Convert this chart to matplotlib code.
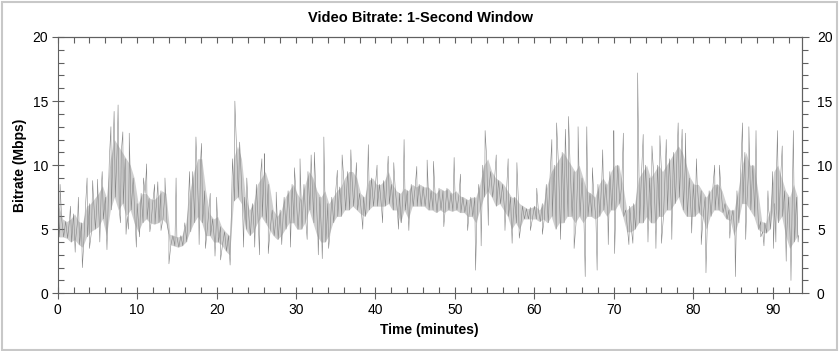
import matplotlib
matplotlib.use('Agg')
import matplotlib.pyplot as plt
import numpy as np
from matplotlib.ticker import MultipleLocator, FixedLocator
from matplotlib.patches import Rectangle

# band of the bitrate per half minute (Mbps): lower edge / upper edge
band_lo = [4.4, 4.4, 4.3, 4.0, 4.2, 3.8, 3.6, 4.4, 4.8, 5.0,
           5.2, 5.8, 4.5, 6.5, 7.5, 6.5, 7.0, 6.0, 6.5, 5.5,
           4.8, 5.5, 5.8, 5.5, 5.4, 5.5, 5.8, 5.5, 3.8, 3.7,
           3.6, 3.7, 4.0, 4.8, 5.5, 6.0, 5.5, 4.5, 4.5, 4.0,
           4.0, 3.8, 3.3, 3.0, 7.2, 7.5, 7.0, 5.0, 4.5, 4.8,
           5.5, 6.0, 5.5, 5.0, 4.5, 4.2, 4.5, 5.0, 5.5, 5.5,
           5.0, 5.0, 5.5, 6.5, 5.5, 4.5, 4.0, 4.0, 4.5, 5.5,
           6.0, 6.0, 6.5, 6.5, 6.8, 6.5, 6.2, 6.0, 6.5, 6.8,
           6.8, 6.8, 6.8, 7.0, 6.5, 6.5, 5.5, 6.5, 5.8, 6.8,
           6.8, 6.8, 6.8, 6.5, 6.5, 6.3, 6.5, 6.3, 6.5, 6.4,
           6.5, 6.3, 6.3, 6.0, 6.0, 5.5, 6.5, 7.5, 8.0, 7.5,
           6.8, 7.0, 6.5, 6.0, 5.0, 5.5, 5.0, 5.8, 5.8, 5.8,
           5.8, 5.6, 5.8, 5.5, 6.0, 5.0, 5.5, 5.5, 6.0, 6.0,
           5.5, 6.0, 5.5, 6.0, 6.0, 5.8, 6.0, 6.5, 6.0, 6.5,
           6.5, 7.0, 6.0, 4.8, 4.8, 5.0, 5.5, 5.5, 6.0, 5.5,
           5.5, 6.0, 6.0, 6.5, 6.5, 7.0, 7.5, 6.5, 6.0, 6.0,
           6.0, 6.3, 6.0, 5.0, 6.0, 6.5, 6.5, 6.3, 5.8, 5.7,
           4.5, 5.5, 7.0, 7.0, 6.5, 6.0, 5.0, 4.8, 4.7, 5.0,
           7.0, 5.5, 6.0, 4.5, 3.5, 4.0, 4.5]
band_hi = [6.8, 5.8, 5.6, 5.8, 6.2, 5.6, 5.5, 6.8, 7.0, 7.4,
           7.8, 8.4, 7.5, 10.5, 12.0, 11.5, 11.0, 10.5, 10.0, 9.0,
           7.0, 7.8, 7.8, 7.4, 7.3, 7.6, 8.0, 7.8, 4.6, 4.5,
           4.4, 4.5, 5.5, 8.0, 9.5, 10.5, 10.5, 8.0, 6.2, 5.8,
           6.0, 5.2, 4.8, 4.5, 10.5, 11.5, 10.5, 7.5, 6.5, 7.0,
           8.5, 9.0, 9.5, 8.5, 6.5, 6.0, 6.5, 7.5, 8.0, 8.5,
           7.8, 7.3, 8.5, 9.5, 9.0, 8.0, 7.5, 8.0, 7.0, 7.5,
           8.0, 8.3, 9.0, 9.5, 9.5, 9.0, 7.8, 7.5, 8.8, 9.0,
           8.5, 8.5, 8.8, 9.5, 8.5, 8.0, 7.8, 8.2, 8.0, 8.5,
           8.3, 8.5, 8.3, 8.3, 8.0, 7.8, 8.2, 8.0, 8.2, 7.8,
           8.0, 7.6, 7.5, 7.3, 7.5, 7.5, 8.5, 10.0, 10.5, 9.5,
           9.0, 8.8, 8.5, 8.0, 7.5, 7.5, 7.0, 6.8, 6.6, 6.7,
           6.8, 6.5, 7.0, 8.5, 9.5, 10.0, 10.5, 11.0, 10.5, 10.0,
           9.5, 10.0, 9.0, 8.0, 7.8, 7.5, 8.5, 9.0, 8.5, 9.5,
           10.0, 10.0, 8.5, 6.5, 6.8, 7.0, 9.0, 9.5, 10.0, 9.0,
           9.5, 10.0, 9.5, 10.0, 10.5, 11.0, 11.5, 11.0, 10.0, 9.0,
           8.5, 8.5, 8.0, 7.5, 8.0, 8.5, 8.5, 8.0, 7.0, 6.5,
           6.5, 8.0, 10.0, 11.0, 10.0, 10.0, 8.0, 5.6, 5.5, 6.5,
           9.5, 10.0, 9.0, 8.0, 7.5, 8.5, 7.5]

# single-second spikes outside the band (minutes, Mbps)
spike_t = [0.3, 2.6, 3.1, 3.7, 4.4, 5.0, 5.6, 6.2, 6.7, 7.1,
           7.6, 8.2, 8.6, 9.0, 9.9, 10.3, 11.2, 12.6, 13.5, 14.0,
           14.9, 17.4, 17.8, 18.1, 19.8, 20.0, 20.5, 21.7, 22.3, 22.9,
           23.4, 25.4, 26.0, 26.5, 27.5, 29.3, 31.9, 32.8, 33.3, 33.5,
           34.1, 36.9, 39.1, 41.6, 42.9, 43.6, 44.2, 46.5, 49.9, 52.6,
           53.3, 53.8, 54.2, 57.2, 57.8, 58.1, 62.2, 62.8, 64.3, 65.5,
           66.4, 66.6, 67.9, 70.0, 70.1, 71.2, 71.9, 73.0, 73.7, 74.3,
           75.8, 76.0, 78.1, 79.0, 79.8, 81.6, 82.7, 85.3, 86.2, 87.0,
           87.9, 88.5, 90.4, 90.6, 91.7, 92.3, 92.6,
           1.6, 2.2, 4.0, 5.3, 7.9, 8.9, 10.8, 11.6, 12.2, 13.0,
           16.6, 18.6, 19.2, 23.8, 24.8, 25.7, 28.2, 29.8, 30.5, 31.4,
           32.3, 35.2, 35.8, 37.6, 38.4, 40.2, 40.9, 42.3, 45.2, 47.3,
           48.6, 50.7, 51.6, 55.2, 56.3, 56.7, 59.5, 60.3, 61.0, 63.3,
           63.9, 65.0, 67.3, 68.6, 69.3, 72.4, 74.8, 75.3, 76.6, 77.3,
           78.6, 80.4, 81.0, 83.3, 84.6, 86.6, 88.9, 89.4, 90.1, 91.2,
           93.2]
spike_v = [8.5, 7.5, 2.0, 9.0, 8.8, 8.9, 9.5, 3.4, 13.0, 14.2,
           14.7, 12.6, 4.6, 12.5, 3.6, 4.4, 10.1, 8.7, 9.0, 2.3,
           9.0, 12.2, 3.8, 11.7, 2.9, 7.5, 2.6, 2.2, 15.0, 11.8,
           3.6, 3.0, 10.9, 3.1, 7.9, 3.6, 10.8, 3.0, 2.7, 12.2,
           3.5, 11.2, 11.6, 10.7, 5.0, 12.0, 4.9, 10.4, 10.6, 1.8,
           3.7, 12.7, 5.3, 3.9, 10.2, 4.3, 12.0, 13.3, 13.8, 13.0,
           1.3, 13.0, 1.8, 12.7, 3.1, 12.5, 3.8, 17.2, 12.4, 4.0,
           12.3, 3.9, 13.3, 12.5, 4.7, 1.6, 10.0, 1.3, 13.3, 13.0,
           12.7, 4.4, 4.0, 12.7, 2.5, 1.0, 12.7,
           6.8, 3.2, 3.5, 4.0, 5.5, 5.0, 9.0, 4.8, 8.5, 4.9,
           9.5, 3.5, 7.8, 9.0, 3.6, 10.5, 3.8, 9.8, 10.5, 4.2,
           11.0, 9.6, 10.8, 10.2, 5.0, 10.0, 5.5, 10.2, 9.9, 10.3,
           5.2, 9.3, 4.9, 10.8, 4.9, 10.5, 4.9, 8.2, 4.6, 4.2,
           12.8, 3.5, 9.8, 11.2, 3.8, 3.9, 11.5, 3.5, 12.0, 4.2,
           12.8, 10.5, 3.8, 10.0, 4.3, 4.2, 3.7, 8.0, 3.5, 11.5,
           4.0]

t_bin = np.arange(len(band_lo)) * 0.5
xs = np.concatenate([t_bin, t_bin + 0.25, spike_t])
ys = np.concatenate([band_hi, band_lo, spike_v])
order = np.argsort(xs, kind='stable')

plt.rcParams['font.family'] = ['Liberation Sans', 'DejaVu Sans']

fig = plt.figure(figsize=(8.4, 3.51), dpi=100)
ax = fig.add_axes([0.0687, 0.1644, 0.8857, 0.7302])

# filled band + jagged trace on top
ax.fill_between(t_bin + 0.125, band_lo, band_hi, color='#a8a8a8', alpha=0.55, lw=0)
ax.plot(xs[order], ys[order], '-', color='#858585', lw=0.4)

ax.set_xlim(0, 93.65)
ax.set_ylim(0, 20)
ax.xaxis.set_major_locator(MultipleLocator(10))
ax.xaxis.set_minor_locator(MultipleLocator(2))
ax.yaxis.set_major_locator(MultipleLocator(5))
ax.yaxis.set_minor_locator(MultipleLocator(1))

for s in ax.spines.values():
    s.set_color('#606060')
    s.set_linewidth(0.8)

ax.tick_params(which='major', direction='inout', length=8, width=0.8, color='#606060',
               labelsize=10, pad=3, right=False, top=False)
ax.tick_params(which='minor', direction='in', length=4, width=0.8, color='#606060',
               right=False, top=False)

sec_y = ax.secondary_yaxis('right')
sec_y.yaxis.set_major_locator(FixedLocator([0, 5, 10, 15, 20]))
sec_y.yaxis.set_minor_locator(FixedLocator(range(0, 21)))
sec_y.tick_params(which='major', direction='out', length=5, width=0.8, color='#606060',
                  labelsize=10, pad=6)
sec_y.tick_params(which='minor', direction='out', length=4, width=0.8, color='#606060')
sec_y.spines['right'].set_color('#606060')

sec_x = ax.secondary_xaxis('top')
sec_x.xaxis.set_major_locator(FixedLocator(range(0, 91, 10)))
sec_x.xaxis.set_minor_locator(FixedLocator(range(0, 94, 2)))
sec_x.tick_params(which='both', direction='in', length=4, width=0.8, color='#606060',
                  labeltop=False)
sec_x.spines['top'].set_color('#606060')

ax.set_xlabel('Time (minutes)', fontsize=10, fontweight='bold', labelpad=4)
ax.set_ylabel('Bitrate (Mbps)', fontsize=10, fontweight='bold', labelpad=4)
fig.text(0.5, 0.949, 'Video Bitrate: 1-Second Window', ha='center', va='center',
         fontsize=10.5, fontweight='bold')

fig.patches.append(Rectangle((0.002, 0.004), 0.995, 0.99, transform=fig.transFigure,
                             fill=False, edgecolor='#c8c8c8', lw=1.5))

fig.savefig('out.png', dpi=100)
